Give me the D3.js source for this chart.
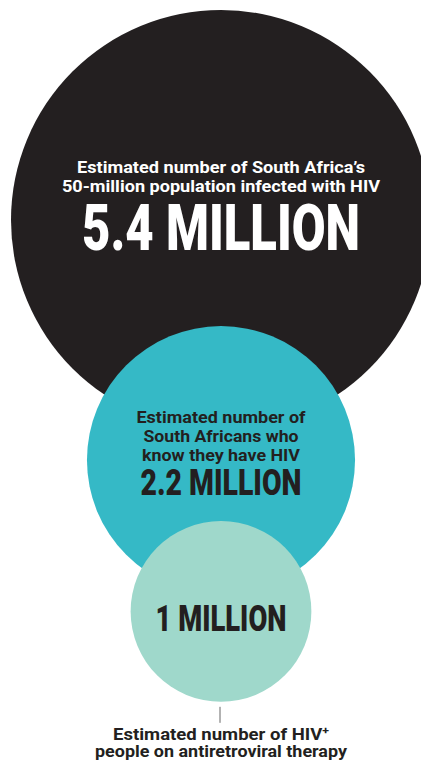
<!DOCTYPE html>
<html lang="en">
<head>
<meta charset="UTF-8">
<script src="https://d3js.org/d3.v7.min.js"></script>
<style>
    body { margin: 0; background: #fff; }
    svg { display: block; }
</style>
</head>
<body>
<div id="viz"></div>
<script>
    const width = 421
    const height = 760

    // data (millions of people)
    const groups = ["infected", "aware", "treated"]
    const values = [5.4, 2.2, 1]
    const valueLabels = ["5.4 MILLION", "2.2 MILLION", "1 MILLION"]
    const captions = [
        ["Estimated number of South Africa’s", "50-million population infected with HIV"],
        ["Estimated number of", "South Africans who", "know they have HIV"],
        []
    ]
    const footnote = ["Estimated number of HIV", "people on antiretroviral therapy"]

    // colours
    const colors = ["#231f20", "#35b9c6", "#9fd8cb"]
    const textColors = ["#ffffff", "#231f20", "#231f20"]

    // layout
    const cx = 221
    const topY = 10
    const overlap = [0.505, 0.455]          // next circle's top sits this many radii below previous centre
    const captionSize = 17
    const captionLead = 19
    const captionWidth = [[288, 318], [169, 155, 158], []]
    const captionFirst = [-47, -37, 0]      // first caption baseline, relative to centre
    const valueSize = [64, 36, 37]
    const valueWidth = [278, 161, 131]
    const valueOffset = [30, 35, 20]        // value baseline, relative to centre

    const svg = d3.select("#viz")
        .append("svg")
        .attr("width", width)
        .attr("height", height)

    // area-proportional radius
    const r = d3.scaleSqrt()
        .domain([0, d3.max(values)])
        .range([0, 210])

    // stack the circles downwards
    const cys = []
    values.forEach((v, i) => {
        if (i == 0) cys.push(topY + r(v))
        else cys.push(cys[i - 1] + overlap[i - 1] * r(values[i - 1]) + r(v))
    })

    const font = "Roboto, 'Liberation Sans', sans-serif"

    svg.append("g")
        .selectAll("circle")
        .data(values)
        .join("circle")
            .attr("cx", cx)
            .attr("cy", (d, i) => cys[i])
            .attr("r", d => r(d))
            .attr("fill", (d, i) => colors[i])

    // captions inside circles
    const labels = svg.append("g")
        .selectAll("g")
        .data(groups)
        .join("g")
            .attr("transform", (d, i) => `translate(${cx},${cys[i]})`)
            .attr("fill", (d, i) => textColors[i])
            .style("font-family", font)
            .attr("text-anchor", "middle")

    labels.each(function(d, i) {
        const g = d3.select(this)
        captions[i].forEach((line, j) => {
            g.append("text")
                .attr("y", captionFirst[i] + j * captionLead)
                .attr("font-size", captionSize)
                .attr("font-weight", 700)
                .attr("textLength", captionWidth[i][j])
                .attr("lengthAdjust", "spacingAndGlyphs")
                .text(line)
        })
        g.append("text")
            .attr("y", valueOffset[i])
            .attr("font-size", valueSize[i])
            .attr("font-weight", 900)
            .attr("textLength", valueWidth[i])
            .attr("lengthAdjust", "spacingAndGlyphs")
            .text(valueLabels[i])
    })

    // footnote for the smallest circle
    const last = values.length - 1
    const bottom = cys[last] + r(values[last])

    svg.append("line")
        .attr("x1", cx - 1).attr("x2", cx - 1)
        .attr("y1", bottom + 5).attr("y2", bottom + 21)
        .attr("stroke", "#666")
        .attr("stroke-width", 1)

    const foot = svg.append("g")
        .attr("fill", "#231f20")
        .style("font-family", font)
        .attr("font-weight", 700)
        .attr("font-size", 16.5)
        .attr("text-anchor", "middle")

    const f1 = foot.append("text")
        .attr("x", cx)
        .attr("y", bottom + 38)
        .attr("textLength", 216)
        .attr("lengthAdjust", "spacingAndGlyphs")
    f1.append("tspan").text(footnote[0])
    f1.append("tspan")
        .attr("font-size", 11)
        .attr("dy", -6)
        .text("+")

    foot.append("text")
        .attr("x", cx)
        .attr("y", bottom + 55)
        .attr("textLength", 252)
        .attr("lengthAdjust", "spacingAndGlyphs")
        .text(footnote[1])
</script>
</body>
</html>
